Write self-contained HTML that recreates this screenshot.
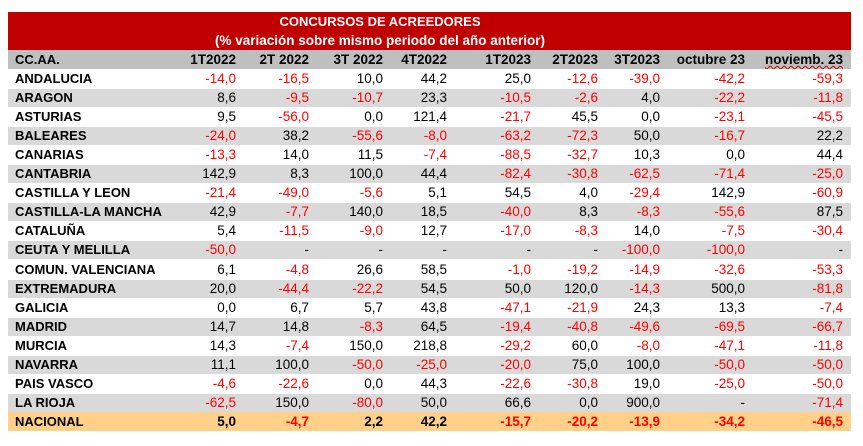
<!DOCTYPE html>
<html><head><meta charset="utf-8">
<style>
body{margin:0;background:#fff;width:863px;height:446px;overflow:hidden;font-family:"Liberation Sans",Arial,sans-serif;}
#t{position:absolute;left:0;top:0;width:863px;height:446px;}
.r{position:absolute;left:8px;width:843px;height:19px;}
.c{position:absolute;top:0;height:19px;line-height:19px;font-size:13.5px;white-space:nowrap;color:#000;}
.lab{left:7px;font-weight:bold;font-size:13px;}
.num{text-align:right;}
</style></head><body>
<div id="t">
<div class="r" style="top:12px;height:38px;background:#c00000;"></div>
<div style="position:absolute;left:8px;width:744px;top:12px;height:19px;line-height:19px;text-align:center;color:#fff;font-weight:bold;font-size:13px;">CONCURSOS DE ACREEDORES</div>
<div style="position:absolute;left:8px;width:744px;top:31px;height:19px;line-height:19px;text-align:center;color:#fff;font-weight:bold;font-size:13.5px;">(% variación sobre mismo periodo del año anterior)</div>
</div>
<script>
const headers=["1T2022","2T 2022","3T 2022","4T2022","1T2023","2T2023","3T2023","octubre 23","noviemb. 23"];
const regions=["ANDALUCIA","ARAGON","ASTURIAS","BALEARES","CANARIAS","CANTABRIA","CASTILLA Y LEON","CASTILLA-LA MANCHA","CATALUÑA","CEUTA Y MELILLA","COMUN. VALENCIANA","EXTREMADURA","GALICIA","MADRID","MURCIA","NAVARRA","PAIS VASCO","LA RIOJA","NACIONAL"];
const q1_2022=[-14.0,8.6,9.5,-24.0,-13.3,142.9,-21.4,42.9,5.4,-50.0,6.1,20.0,0.0,14.7,14.3,11.1,-4.6,-62.5,5.0];
const q2_2022=[-16.5,-9.5,-56.0,38.2,14.0,8.3,-49.0,-7.7,-11.5,null,-4.8,-44.4,6.7,14.8,-7.4,100.0,-22.6,150.0,-4.7];
const q3_2022=[10.0,-10.7,0.0,-55.6,11.5,100.0,-5.6,140.0,-9.0,null,26.6,-22.2,5.7,-8.3,150.0,-50.0,0.0,-80.0,2.2];
const q4_2022=[44.2,23.3,121.4,-8.0,-7.4,44.4,5.1,18.5,12.7,null,58.5,54.5,43.8,64.5,218.8,-25.0,44.3,50.0,42.2];
const q1_2023=[25.0,-10.5,-21.7,-63.2,-88.5,-82.4,54.5,-40.0,-17.0,null,-1.0,50.0,-47.1,-19.4,-29.2,-20.0,-22.6,66.6,-15.7];
const q2_2023=[-12.6,-2.6,45.5,-72.3,-32.7,-30.8,4.0,8.3,-8.3,null,-19.2,120.0,-21.9,-40.8,60.0,75.0,-30.8,0.0,-20.2];
const q3_2023=[-39.0,4.0,0.0,50.0,10.3,-62.5,-29.4,-8.3,14.0,-100.0,-14.9,-14.3,24.3,-49.6,-8.0,100.0,19.0,900.0,-13.9];
const oct_2023=[-42.2,-22.2,-23.1,-16.7,0.0,-71.4,142.9,-55.6,-7.5,-100.0,-32.6,500.0,13.3,-69.5,-47.1,-50.0,-25.0,null,-34.2];
const nov_2023=[-59.3,-11.8,-45.5,22.2,44.4,-25.0,-60.9,87.5,-30.4,null,-53.3,-81.8,-7.4,-66.7,-11.8,-50.0,-50.0,-71.4,-46.5];
const series=[q1_2022,q2_2022,q3_2022,q4_2022,q1_2023,q2_2023,q3_2023,oct_2023,nov_2023];
const colRight=[236,309,383,447,531,598,660,745,843];
const t=document.getElementById('t');
function cell(row,text,right,cls){
  const d=document.createElement('div');
  d.className='c '+cls;
  if(right!==null){d.style.right=(851-right)+'px';}
  d.textContent=text;
  row.appendChild(d);return d;
}
const hr=document.createElement('div');
hr.className='r';hr.style.top='50px';hr.style.background='#bfbfbf';


t.appendChild(hr);
const hl=cell(hr,'CC.AA.',null,'lab');


headers.forEach((h,i)=>{
  const d=cell(hr,h,colRight[i],'num');
  d.style.fontWeight='bold';
  if(i===8){d.style.textDecoration='underline wavy #c00000';d.style.textDecorationThickness='1px';}
  
  
});
function fmt(v){return v===null?'-':v.toFixed(1).replace('.',',');}
regions.forEach((r,ri)=>{
  const row=document.createElement('div');
  row.className='r';
  row.style.top=(69+ri*19.05)+'px';
  const last=ri===regions.length-1;
  row.style.background=last?'#ffd08a':(ri%2===1?'#d9d9d9':'#ffffff');
  if(ri%2===1&&!last){row.style.borderTop='1px solid #fff';row.style.height='18px';}
  
  
  t.appendChild(row);
  const l=cell(row,r,null,'lab');
  if(ri%2===1&&!last)l.style.top='-1px';
  
  
  series.forEach((s,ci)=>{
    const v=s[ri];
    const d=cell(row,fmt(v),colRight[ci],'num');
    if(ri%2===1&&!last)d.style.top='-1px';
    if(v!==null&&v<0)d.style.color='#ff0000';
    if(last)d.style.fontWeight='bold';
    
    
  });
});
</script>
</body></html>
